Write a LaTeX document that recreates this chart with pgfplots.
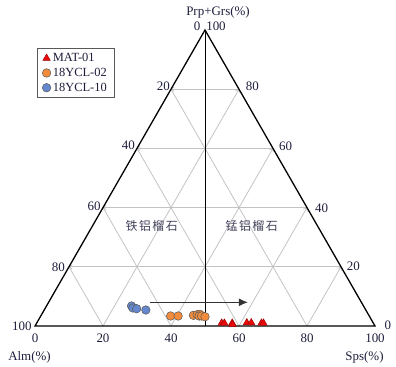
\documentclass[border=0pt]{standalone}
\usepackage{pgfplots}
\pgfplotsset{compat=1.18}
\usepackage{fontspec}
\setmainfont{Liberation Serif}
\newfontfamily\cjk{Noto Sans CJK SC}[LetterSpace=12]
\usetikzlibrary{arrows.meta}

\definecolor{txt}{RGB}{30,30,60}
\definecolor{gridc}{RGB}{195,195,195}
\definecolor{orangec}{RGB}{242,140,60}
\definecolor{bluec}{RGB}{100,135,205}
\definecolor{redc}{RGB}{235,10,10}

\begin{document}
\begin{tikzpicture}[font=\fontsize{13}{15}\selectfont, text=txt]
\useasboundingbox (-35bp,-41bp) rectangle (361bp,326bp);
\begin{axis}[
  scale only axis, width=340bp, height=296bp,
  xmin=0, xmax=100, ymin=0, ymax=86.6,
  axis lines=none, clip=false,
  legend cell align=left,
  legend style={at={(0.006,0.939)}, anchor=north west, draw=black!65, line width=0.6pt,
    font=\fontsize{12.5}{13}\selectfont, text=txt, row sep=1pt, inner xsep=5pt, inner ysep=3pt},
  legend image code/.code={\draw[#1, only marks] plot coordinates {(0.1cm,0cm)};},
]
% grid
\addplot[gridc, line width=0.8pt, {Straight Barb[length=2.5pt,width=4.5pt]}-, forget plot] coordinates {(10,17.32) (90,17.32)};
\addplot[gridc, line width=0.8pt, {Straight Barb[length=2.5pt,width=4.5pt]}-, forget plot] coordinates {(20,34.64) (80,34.64)};
\addplot[gridc, line width=0.8pt, {Straight Barb[length=2.5pt,width=4.5pt]}-, forget plot] coordinates {(30,51.96) (70,51.96)};
\addplot[gridc, line width=0.8pt, {Straight Barb[length=2.5pt,width=4.5pt]}-, forget plot] coordinates {(40,69.28) (60,69.28)};
\addplot[gridc, line width=0.8pt, -{Straight Barb[length=2.5pt,width=4.5pt]}, forget plot] coordinates {(20,0) (60,69.28)};
\addplot[gridc, line width=0.8pt, -{Straight Barb[length=2.5pt,width=4.5pt]}, forget plot] coordinates {(40,0) (70,51.96)};
\addplot[gridc, line width=0.8pt, -{Straight Barb[length=2.5pt,width=4.5pt]}, forget plot] coordinates {(60,0) (80,34.64)};
\addplot[gridc, line width=0.8pt, -{Straight Barb[length=2.5pt,width=4.5pt]}, forget plot] coordinates {(80,0) (90,17.32)};
\addplot[gridc, line width=0.8pt, forget plot] coordinates {(20,0) (10,17.32)};
\addplot[gridc, line width=0.8pt, forget plot] coordinates {(40,0) (20,34.64)};
\addplot[gridc, line width=0.8pt, forget plot] coordinates {(60,0) (30,51.96)};
\addplot[gridc, line width=0.8pt, forget plot] coordinates {(80,0) (40,69.28)};
% center line
\addplot[black, line width=0.7pt, forget plot] coordinates {(50,0) (50,86.6)};
% triangle
\addplot[black, line width=1.3pt, line join=miter, line cap=round, forget plot] coordinates {(0,0) (100,0) (50,86.6) (0,0) (50,0)};
% trend arrow
\addplot[black!80, line width=1pt, -{Latex[length=9bp,width=8bp]}, forget plot] coordinates {(33.8,6.93) (62.6,6.93)};
% data
\addplot[only marks, mark=triangle*, mark size=4.3pt, mark options={fill=redc, draw=red!60!black, line width=0.4pt}]
  coordinates {(54.9,0.85) (55.7,0.85) (58.0,0.85) (58.1,0.45) (62.3,0.95) (63.6,0.95) (66.6,0.85) (67.2,0.85)};
\addlegendentry{MAT-01}
\addplot[only marks, mark=*, mark size=4.3pt, mark options={fill=orangec, draw=black!65, line width=0.5pt}]
  coordinates {(39.9,2.93) (42.1,2.93) (46.6,3.13) (47.7,3.3) (48.5,3.42) (48.3,2.93) (49.0,2.93) (50.0,2.72)};
\addlegendentry{18YCL-02}
\addplot[only marks, mark=*, mark size=4.3pt, mark options={fill=bluec, draw=black!65, line width=0.5pt}]
  coordinates {(28.4,5.85) (28.8,5.27) (29.9,5.06) (32.6,4.68)};
\addlegendentry{18YCL-10}
\end{axis}
% labels (tikz coords in bp, origin at bottom-left vertex)
\node at (183bp,314bp) {Prp+Grs(\%)};
\node at (162bp,300bp) {0};
\node at (181bp,300bp) {100};
\node[anchor=east, inner sep=0pt] at (135bp,240bp) {20};
\node[anchor=east, inner sep=0pt] at (100bp,181bp) {40};
\node[anchor=east, inner sep=0pt] at (65.7bp,120bp) {60};
\node[anchor=east, inner sep=0pt] at (30bp,58.7bp) {80};
\node[anchor=east, inner sep=0pt] at (-3.3bp,0bp) {100};
\node[anchor=west, inner sep=0pt] at (210.7bp,239.3bp) {80};
\node[anchor=west, inner sep=0pt] at (244bp,180bp) {60};
\node[anchor=west, inner sep=0pt] at (280bp,118bp) {40};
\node[anchor=west, inner sep=0pt] at (311.7bp,60bp) {20};
\node[anchor=west, inner sep=0pt] at (349.3bp,0.3bp) {0};
\foreach \k/\l in {0/0,1/20,2/40,3/60,4/80,5/100} {
  \node at ({68*\k bp},-12bp) {\l};
}
\node at (-5.5bp,-31bp) {Alm(\%)};
\node at (329.5bp,-31bp) {Sps(\%)};
\node[text=txt!85] at (116.7bp,100bp) {\cjk\fontsize{12}{14}\selectfont 铁铝榴石};
\node[text=txt!85] at (216.7bp,100bp) {\cjk\fontsize{12}{14}\selectfont 锰铝榴石};
\end{tikzpicture}
\end{document}
